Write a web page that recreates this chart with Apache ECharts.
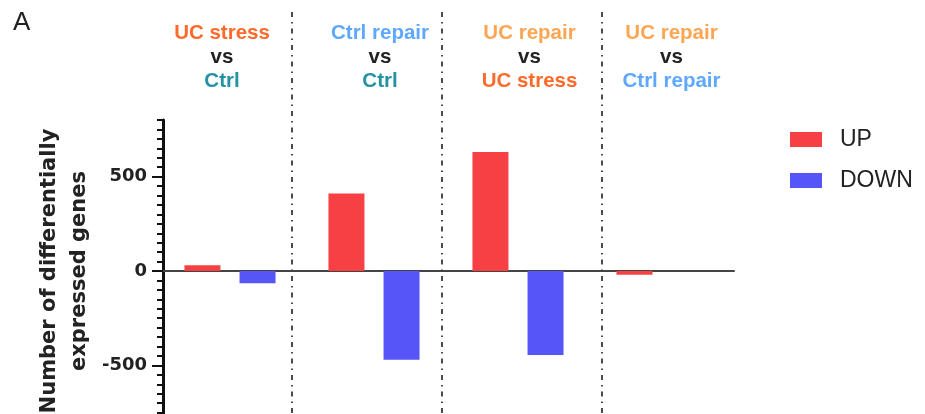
<!DOCTYPE html>
<html>
<head>
<meta charset="utf-8">
<script src="https://cdn.jsdelivr.net/npm/echarts@6/dist/echarts.min.js"></script>
<style>
  html, body { margin: 0; padding: 0; background: #fff; }
  #chart { width: 925px; height: 414px; }
</style>
</head>
<body>
<div id="chart"></div>
<script>
// Comparisons (one category per pair of bars)
const comparisons = ['UC stress vs Ctrl', 'Ctrl repair vs Ctrl', 'UC repair vs UC stress', 'UC repair vs Ctrl repair'];
const headerFirst = ['UC stress', 'Ctrl repair', 'UC repair', 'UC repair'];
const headerSecond = ['Ctrl', 'Ctrl', 'UC stress', 'Ctrl repair'];

// Number of differentially expressed genes
const upGenes = [30, 410, 630, -20];
const downGenes = [-65, -470, -445, 0];

// Labelled ticks on the value axis
const yTickValues = [-500, 0, 500];

// Colour per sample group in the headers
const groupColors = {
  'UC stress': '#FF6A2B',
  'Ctrl': '#2392A3',
  'Ctrl repair': '#5EA8FF',
  'UC repair': '#FFA552'
};
const richKey = { 'UC stress': 'us', 'Ctrl': 'c', 'Ctrl repair': 'cr', 'UC repair': 'ur' };

// Layout of the header blocks and the dash-dot separators
const headerX = [222, 380, 529.5, 671.5];
const separatorX = [292, 442, 602];

const headerFont = '"Liberation Sans", Arial, sans-serif';
const axisFont = '"DejaVu Sans", sans-serif';

function headerStyle(color) {
  return { fill: color, fontWeight: 'bold', fontSize: 20.5, fontFamily: headerFont, lineHeight: 24 };
}
const rich = { v: headerStyle('#222') };
Object.keys(groupColors).forEach(function (g) {
  rich[richKey[g]] = headerStyle(groupColors[g]);
});

const graphics = [];
headerFirst.forEach(function (first, i) {
  const second = headerSecond[i];
  graphics.push({
    type: 'text',
    x: headerX[i],
    y: 57,
    style: {
      text: '{' + richKey[first] + '|' + first + '}\n{v|vs}\n{' + richKey[second] + '|' + second + '}',
      rich: rich,
      align: 'center',
      verticalAlign: 'middle'
    }
  });
});
separatorX.forEach(function (x) {
  graphics.push({
    type: 'line',
    shape: { x1: x, y1: 12, x2: x, y2: 414 },
    style: { stroke: '#111', lineWidth: 1.5, lineDash: [5, 5, 1.5, 5] }
  });
});
graphics.push({
  type: 'text',
  x: 13,
  y: 23,
  style: { text: 'A', fill: '#222', fontSize: 26, fontFamily: headerFont, verticalAlign: 'middle' }
});

const chart = echarts.init(document.getElementById('chart'), null, { renderer: 'canvas' });

chart.setOption({
  animation: false,
  backgroundColor: '#fff',
  grid: { left: 158, top: 120, width: 576, height: 302, containLabel: false, outerBoundsMode: 'none' },
  legend: {
    orient: 'vertical',
    left: 785,
    top: 123,
    itemWidth: 32,
    itemHeight: 15,
    itemGap: 18,
    icon: 'rect',
    data: ['UP', 'DOWN'],
    textStyle: { color: '#222', fontSize: 23, lineHeight: 23, fontFamily: headerFont, padding: [0, 0, 0, 13] }
  },
  xAxis: {
    type: 'category',
    data: comparisons,
    axisLine: { onZero: true, lineStyle: { color: '#444', width: 2 } },
    axisTick: { show: false },
    axisLabel: { show: false },
    splitLine: { show: false }
  },
  yAxis: [
    {
      type: 'value',
      position: 'left',
      offset: -5,
      min: -800,
      max: 800,
      interval: 50,
      name: 'Number of differentially\nexpressed genes',
      nameLocation: 'middle',
      nameGap: 68,
      nameTextStyle: { color: '#222', fontFamily: axisFont, fontWeight: 'bold', fontSize: 21, lineHeight: 30 },
      axisLine: { show: true, lineStyle: { color: '#111', width: 3 } },
      axisTick: { show: true, length: 6, lineStyle: { color: '#111', width: 2 } },
      axisLabel: { show: false },
      splitLine: { show: false }
    },
    {
      type: 'value',
      position: 'left',
      offset: -5,
      min: -800,
      max: 800,
      interval: 50,
      axisLine: { show: false },
      axisTick: { show: true, length: 11, customValues: yTickValues, lineStyle: { color: '#111', width: 2 } },
      axisLabel: {
        show: true,
        customValues: yTickValues,
        margin: 16,
        color: '#222',
        fontFamily: axisFont,
        fontWeight: 'bold',
        fontSize: 18
      },
      splitLine: { show: false }
    }
  ],
  series: [
    {
      name: 'UP',
      type: 'bar',
      yAxisIndex: 0,
      data: upGenes,
      barWidth: 36,
      barGap: '53%',
      itemStyle: { color: '#F74044' }
    },
    {
      name: 'DOWN',
      type: 'bar',
      yAxisIndex: 0,
      data: downGenes,
      barWidth: 36,
      itemStyle: { color: '#5656F8' }
    }
  ],
  graphic: graphics
});
</script>
</body>
</html>
